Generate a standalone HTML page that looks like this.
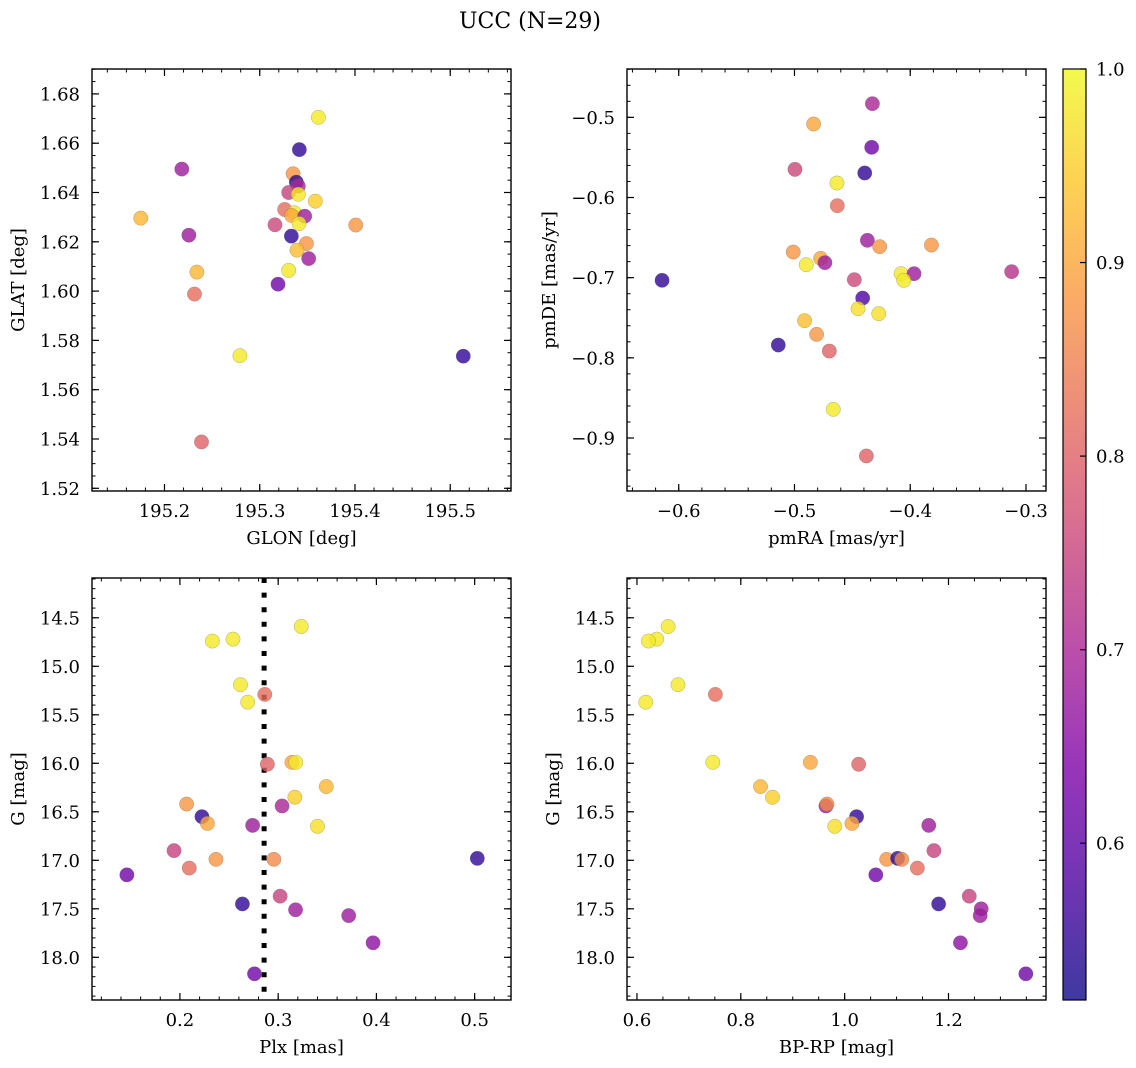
<!DOCTYPE html>
<html><head><meta charset="utf-8">
<style>
html,body{margin:0;padding:0;background:#fff;}
svg{display:block;font-family:"DejaVu Serif","Liberation Serif",serif;}
</style></head>
<body>
<svg id="fig" width="1136" height="1068" viewBox="0 0 1136 1068">
<defs>
<linearGradient id="plasma" x1="0" y1="1" x2="0" y2="0">
<stop offset="0" stop-color="#0d0887"/><stop offset="0.125" stop-color="#4c02a1"/>
<stop offset="0.25" stop-color="#7e03a8"/><stop offset="0.375" stop-color="#a92395"/>
<stop offset="0.5" stop-color="#cc4778"/><stop offset="0.625" stop-color="#e66c5c"/>
<stop offset="0.75" stop-color="#f89540"/><stop offset="0.875" stop-color="#fdc527"/>
<stop offset="1" stop-color="#f0f921"/></linearGradient>
</defs>
<text x="530" y="28" font-size="22" text-anchor="middle">UCC (N=29)</text>
</svg>
<script>
// colour values (membership probability)
const cbMin = 0.519, cbMax = 1.0;
const cbTicks = [0.6, 0.7, 0.8, 0.9, 1.0];

// Panel 1: GLON / GLAT
const glon = [195.3616,195.3416,195.2182,195.335,195.3384,195.3405,195.3304,195.3405,195.3584,195.1751,195.3262,195.3363,195.3335,195.3472,195.3413,195.316,195.4008,195.2256,195.3332,195.349,195.3391,195.3514,195.234,195.3304,195.2315,195.3192,195.2792,195.5137,195.2389];
const glat = [1.6705,1.6574,1.6495,1.6476,1.6442,1.6426,1.64,1.6393,1.6365,1.6296,1.6331,1.6318,1.6307,1.6304,1.6274,1.6269,1.6268,1.6227,1.6223,1.6193,1.6166,1.6132,1.6077,1.6084,1.5988,1.6028,1.5738,1.5736,1.5388];
const prob1 = [0.98,0.55,0.68,0.88,0.55,0.70,0.75,0.98,0.95,0.92,0.82,0.98,0.90,0.68,0.98,0.76,0.88,0.68,0.55,0.88,0.93,0.68,0.92,0.98,0.82,0.62,0.98,0.55,0.80];

// Panel 2: pmRA / pmDE
const pmra = [-0.4327,-0.4835,-0.4333,-0.4996,-0.4393,-0.4633,-0.463,-0.437,-0.4264,-0.3817,-0.5011,-0.4774,-0.4737,-0.4898,-0.6144,-0.4483,-0.4079,-0.3967,-0.4056,-0.3124,-0.4411,-0.4451,-0.4272,-0.4913,-0.4809,-0.514,-0.4699,-0.4665,-0.4379];
const pmde = [-0.483,-0.5083,-0.5374,-0.5649,-0.5694,-0.5819,-0.6102,-0.6534,-0.6613,-0.6593,-0.668,-0.6759,-0.6813,-0.6838,-0.7033,-0.7025,-0.695,-0.695,-0.7033,-0.6925,-0.7254,-0.7387,-0.7449,-0.7536,-0.7707,-0.784,-0.7915,-0.8642,-0.9224];
const prob2 = [0.70,0.90,0.62,0.76,0.55,0.98,0.82,0.68,0.88,0.88,0.88,0.90,0.68,0.98,0.55,0.76,0.98,0.68,0.98,0.72,0.58,0.97,0.97,0.93,0.88,0.55,0.80,0.98,0.80];

// Panel 3: Plx / G
const plx = [0.3235,0.233,0.254,0.2616,0.269,0.2864,0.289,0.314,0.318,0.349,0.317,0.2068,0.304,0.2224,0.228,0.274,0.340,0.194,0.2367,0.2956,0.5027,0.2095,0.146,0.302,0.2636,0.3177,0.3718,0.3966,0.2759];
const gmag3 = [14.59,14.74,14.72,15.19,15.37,15.29,16.01,15.99,15.99,16.24,16.35,16.42,16.44,16.55,16.62,16.64,16.65,16.90,16.99,16.99,16.98,17.08,17.15,17.37,17.45,17.51,17.57,17.85,18.17];
const prob3 = [0.98,0.98,0.98,0.98,0.98,0.82,0.80,0.90,0.98,0.92,0.95,0.88,0.70,0.55,0.90,0.68,0.97,0.75,0.88,0.86,0.55,0.82,0.62,0.75,0.55,0.68,0.68,0.66,0.62];
const plxLine = 0.2857;

// Panel 4: BP-RP / G
const bprp = [0.660,0.638,0.622,0.679,0.617,0.751,0.746,0.934,1.027,0.838,0.861,0.964,0.966,1.023,1.014,0.981,1.162,1.172,1.081,1.102,1.110,1.140,1.060,1.240,1.181,1.263,1.261,1.223,1.349];
const gmag4 = [14.59,14.72,14.74,15.19,15.37,15.29,15.99,15.99,16.01,16.24,16.35,16.44,16.42,16.55,16.62,16.65,16.64,16.90,16.99,16.98,16.99,17.08,17.15,17.37,17.45,17.50,17.57,17.85,18.17];
const prob4 = [0.98,0.98,0.98,0.98,0.98,0.82,0.98,0.90,0.80,0.92,0.95,0.68,0.86,0.55,0.90,0.97,0.68,0.75,0.88,0.55,0.86,0.82,0.62,0.75,0.55,0.68,0.68,0.66,0.62];

// tick labels
const ticks1x = [195.2,195.3,195.4,195.5], ticks1y = [1.52,1.54,1.56,1.58,1.60,1.62,1.64,1.66,1.68];
const ticks2x = [-0.6,-0.5,-0.4,-0.3], ticks2y = [-0.9,-0.8,-0.7,-0.6,-0.5];
const ticks3x = [0.2,0.3,0.4,0.5], ticksGy = [14.5,15.0,15.5,16.0,16.5,17.0,17.5,18.0];
const ticks4x = [0.6,0.8,1.0,1.2];

const NS = "http://www.w3.org/2000/svg";
const svg = document.getElementById('fig');
function mk(tag, attrs, parent){const e=document.createElementNS(NS,tag);for(const k in attrs)e.setAttribute(k,attrs[k]);(parent||svg).appendChild(e);return e;}

const stops=[[13,8,135],[76,2,161],[126,3,168],[169,35,149],[204,71,120],[230,108,92],[248,149,64],[253,197,39],[240,249,33]];
function plasma(v){let t=(v-cbMin)/(cbMax-cbMin);t=Math.max(0,Math.min(1,t))*8;const i=Math.min(7,Math.floor(t)),f=t-i;const a=stops[i],b=stops[i+1];return `rgb(${Math.round(a[0]+(b[0]-a[0])*f)},${Math.round(a[1]+(b[1]-a[1])*f)},${Math.round(a[2]+(b[2]-a[2])*f)})`;}
function fmt(v,d){const s=Math.abs(v).toFixed(d);return (v<0?'\u2212':'')+s;}

function panel(cfg){
  const g=mk('g',{});
  
  
  const {L,T,R,B,x0,x1,y0,y1}=cfg;
  const sx=v=>L+(v-x0)/(x1-x0)*(R-L);
  const sy=v=>cfg.invY? T+(v-y0)/(y1-y0)*(B-T) : B-(v-y0)/(y1-y0)*(B-T);
  const eps=1e-9;
  for(let v=Math.ceil(x0/cfg.mx-eps)*cfg.mx; v<=x1+eps; v+=cfg.mx){const x=sx(v);
    mk('line',{x1:x,x2:x,y1:B,y2:B-3.5,stroke:'#000','stroke-width':1},g);
    mk('line',{x1:x,x2:x,y1:T,y2:T+3.5,stroke:'#000','stroke-width':1},g);}
  for(let v=Math.ceil(y0/cfg.my-eps)*cfg.my; v<=y1+eps; v+=cfg.my){const y=sy(v);
    mk('line',{x1:L,x2:L+3.5,y1:y,y2:y,stroke:'#000','stroke-width':1},g);
    mk('line',{x1:R,x2:R-3.5,y1:y,y2:y,stroke:'#000','stroke-width':1},g);}
  cfg.tx.forEach(v=>{const x=sx(v);
    mk('line',{x1:x,x2:x,y1:B,y2:B-7,stroke:'#000','stroke-width':1.2},g);
    mk('line',{x1:x,x2:x,y1:T,y2:T+7,stroke:'#000','stroke-width':1.2},g);
    const t=mk('text',{x:x,y:B+26,'font-size':18,'text-anchor':'middle'},g);t.textContent=fmt(v,cfg.dx);
    
    });
  cfg.ty.forEach(v=>{const y=sy(v);
    mk('line',{x1:L,x2:L+7,y1:y,y2:y,stroke:'#000','stroke-width':1.2},g);
    mk('line',{x1:R,x2:R-7,y1:y,y2:y,stroke:'#000','stroke-width':1.2},g);
    const t=mk('text',{x:L-12,y:y+6.5,'font-size':18,'text-anchor':'end'},g);t.textContent=fmt(v,cfg.dy);
    
    });
  if(cfg.vline!==undefined){const x=sx(cfg.vline);
    const l=mk('line',{x1:x,x2:x,y1:T,y2:B,stroke:'#000','stroke-width':5,'stroke-dasharray':'5 9.6'},g);
    
    }
  cfg.xs.forEach((xv,i)=>{
    const c=mk('circle',{cx:sx(xv),cy:sy(cfg.ys[i]),r:7.2,fill:plasma(cfg.cs[i]),'fill-opacity':0.8,stroke:'#666','stroke-opacity':0.5,'stroke-width':0.5},g);
    
    });
  const fr=mk('rect',{x:L,y:T,width:R-L,height:B-T,fill:'none',stroke:'#000','stroke-width':1.4},g);
  
  
  const xl=mk('text',{x:(L+R)/2,y:B+53,'font-size':18,'text-anchor':'middle'},g);xl.textContent=cfg.xlab;
  
  
  const yx=L-cfg.ylo, yy=(T+B)/2;
  const yl=mk('text',{x:yx,y:yy,'font-size':18,'text-anchor':'middle',transform:`rotate(-90 ${yx} ${yy})`},g);yl.textContent=cfg.ylab;
  
  
}

panel({name:'glon-glat-panel',L:92,T:69,R:511,B:491,x0:195.1239,x1:195.5638,y0:1.5189,y1:1.6901,mx:0.02,my:0.005,tx:ticks1x,ty:ticks1y,dx:1,dy:2,xs:glon,ys:glat,cs:prob1,xlab:'GLON [deg]',ylab:'GLAT [deg]',ylo:68});
panel({name:'proper-motion-panel',L:627,T:69,R:1046,B:491,x0:-0.6447,x1:-0.2827,y0:-0.9661,y1:-0.4397,mx:0.02,my:0.02,tx:ticks2x,ty:ticks2y,dx:1,dy:1,xs:pmra,ys:pmde,cs:prob2,xlab:'pmRA [mas/yr]',ylab:'pmDE [mas/yr]',ylo:72});
panel({name:'plx-g-panel',L:92,T:578,R:511,B:1000,x0:0.1105,x1:0.537,y0:14.09,y1:18.44,invY:true,mx:0.02,my:0.1,tx:ticks3x,ty:ticksGy,dx:1,dy:1,xs:plx,ys:gmag3,cs:prob3,xlab:'Plx [mas]',ylab:'G [mag]',ylo:68,vline:plxLine});
panel({name:'cmd-panel',L:627,T:578,R:1046,B:1000,x0:0.5808,x1:1.3878,y0:14.09,y1:18.44,invY:true,mx:0.05,my:0.1,tx:ticks4x,ty:ticksGy,dx:1,dy:1,xs:bprp,ys:gmag4,cs:prob4,xlab:'BP-RP [mag]',ylab:'G [mag]',ylo:68});

// colorbar
const cb=mk('g',{});


const cT=69,cB=1000,cL=1063,cR=1086;
mk('rect',{x:cL,y:cT,width:cR-cL,height:cB-cT,fill:'url(#plasma)','fill-opacity':0.8},cb);
mk('rect',{x:cL,y:cT,width:cR-cL,height:cB-cT,fill:'none',stroke:'#000','stroke-width':1.2},cb);
cbTicks.forEach(v=>{const y=cB-(v-cbMin)/(cbMax-cbMin)*(cB-cT);
  mk('line',{x1:cR,x2:cR-6,y1:y,y2:y,stroke:'#000','stroke-width':1.2},cb);
  const t=mk('text',{x:cR+10,y:y+6.5,'font-size':18},cb);t.textContent=v.toFixed(1);
  
  });
</script>
</body></html>
